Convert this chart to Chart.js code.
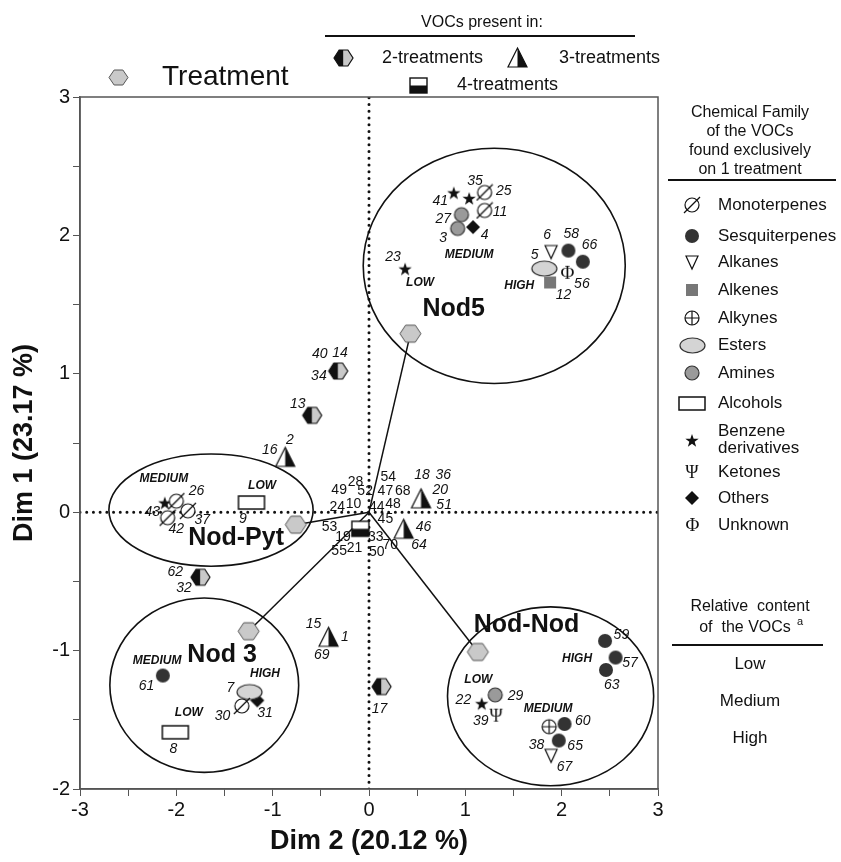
<!DOCTYPE html>
<html>
<head>
<meta charset="utf-8">
<script src="https://cdn.jsdelivr.net/npm/chart.js@4.4.1/dist/chart.umd.min.js"></script>
<style>
  html, body { margin: 0; padding: 0; background: #fff; }
  canvas { display: block; }
</style>
</head>
<body>
<canvas id="pcaChart" width="841" height="862"></canvas>
<script>
// values: Dim 2 on x, Dim 1 on y
const xRange = [-3, 3];
const yRange = [-2, 3];

const treatmentNames = ['Nod5', 'Nod-Pyt', 'Nod 3', 'Nod-Nod'];
const treatmentX = [0.43, -0.76, -1.25, 1.13];
const treatmentY = [1.29, -0.09, -0.86, -1.01];
const treatmentTextX = [0.88, -1.38, -1.525, 1.635];
const treatmentTextY = [1.47, -0.19, -1.03, -0.815];

// ellipse round each treatment: centre and half widths
const ellipseCx = [1.30, -1.64, -1.71, 1.885];
const ellipseCy = [1.78, 0.015, -1.25, -1.33];
const ellipseRx = [1.36, 1.06, 0.98, 1.07];
const ellipseRy = [0.85, 0.405, 0.63, 0.646];

// VOCs found on one treatment only, by chemical family
const monoterpenes = [[1.20, 2.31], [1.20, 2.18], [-2.00, 0.08], [-1.88, 0.01], [-2.09, -0.04], [-1.32, -1.40]];
const sesquiterpenes = [[2.07, 1.89], [2.22, 1.81], [-2.14, -1.18], [2.45, -0.93], [2.56, -1.05], [2.46, -1.14], [2.03, -1.53], [1.97, -1.65]];
const alkanes = [[1.89, 1.88], [1.89, -1.76]];
const alkenes = [[1.88, 1.66]];
const alkynes = [[1.87, -1.55]];
const esters = [[1.82, 1.76], [-1.24, -1.30]];
const amines = [[0.96, 2.15], [0.92, 2.05], [1.31, -1.32]];
const alcohols = [[-1.22, 0.07], [-2.01, -1.59]];
const benzenes = [[0.88, 2.31], [1.04, 2.27], [0.375, 1.76], [-2.12, 0.07], [1.17, -1.38]];
const ketones = [[1.32, -1.47]];
const others = [[1.08, 2.06], [-1.16, -1.36]];
const unknowns = [[2.06, 1.73]];

// VOCs shared by several treatments
const twoTreatments = [[-0.32, 1.02], [-0.59, 0.70], [-1.75, -0.47], [0.13, -1.26]];
const threeTreatments = [[-0.87, 0.40], [-0.42, -0.90], [0.54, 0.10], [0.36, -0.12]];
const fourTreatments = [[-0.09, -0.12]];

// VOC numbers, written in italics beside their marks
const vocLabels = [
  ['35', 1.10, 2.39], ['41', 0.74, 2.25], ['25', 1.40, 2.32], ['11', 1.36, 2.17], ['27', 0.77, 2.12],
  ['3', 0.77, 1.98], ['4', 1.20, 2.00], ['23', 0.25, 1.84], ['6', 1.85, 2.00], ['58', 2.10, 2.01],
  ['66', 2.29, 1.93], ['5', 1.72, 1.86], ['56', 2.21, 1.65], ['12', 2.02, 1.57],
  ['26', -1.79, 0.15], ['37', -1.73, -0.06], ['42', -2.00, -0.125], ['43', -2.25, 0.00], ['9', -1.31, -0.05],
  ['61', -2.31, -1.26], ['7', -1.44, -1.27], ['31', -1.08, -1.45], ['30', -1.52, -1.47], ['8', -2.03, -1.71],
  ['59', 2.62, -0.89], ['57', 2.71, -1.09], ['63', 2.52, -1.25], ['29', 1.52, -1.33], ['22', 0.98, -1.36],
  ['39', 1.16, -1.51], ['60', 2.22, -1.51], ['38', 1.74, -1.68], ['65', 2.14, -1.69], ['67', 2.03, -1.84],
  ['40', -0.51, 1.14], ['14', -0.30, 1.15], ['34', -0.52, 0.98], ['13', -0.74, 0.78], ['16', -1.03, 0.45],
  ['2', -0.82, 0.52], ['62', -2.01, -0.43], ['32', -1.92, -0.55], ['15', -0.575, -0.81], ['1', -0.25, -0.90],
  ['69', -0.49, -1.03], ['17', 0.11, -1.42], ['18', 0.55, 0.27], ['36', 0.77, 0.27], ['20', 0.74, 0.16],
  ['51', 0.78, 0.05], ['46', 0.565, -0.11], ['64', 0.52, -0.24]
];
// VOCs found on all treatments, upright numbers round the origin
const commonLabels = [
  ['28', -0.14, 0.22], ['49', -0.31, 0.16], ['52', -0.04, 0.15], ['54', 0.20, 0.25], ['47', 0.17, 0.15],
  ['68', 0.35, 0.15], ['24', -0.33, 0.04], ['10', -0.16, 0.06], ['44', 0.08, 0.04], ['48', 0.25, 0.06],
  ['45', 0.17, -0.05], ['53', -0.41, -0.11], ['19', -0.27, -0.18], ['33', 0.07, -0.18], ['70', 0.22, -0.24],
  ['55', -0.31, -0.28], ['21', -0.15, -0.26], ['50', 0.08, -0.29]
];
// relative content tags
const levelText = ['MEDIUM', 'LOW', 'HIGH', 'MEDIUM', 'LOW', 'MEDIUM', 'HIGH', 'LOW', 'HIGH', 'LOW', 'MEDIUM'];
const levelX = [1.04, 0.53, 1.56, -2.13, -1.11, -2.20, -1.08, -1.87, 2.16, 1.135, 1.86];
const levelY = [1.86, 1.66, 1.64, 0.24, 0.195, -1.07, -1.17, -1.45, -1.06, -1.21, -1.42];

const familyNames = ['Monoterpenes', 'Sesquiterpenes', 'Alkanes', 'Alkenes', 'Alkynes', 'Esters', 'Amines',
  'Alcohols', 'Benzene\nderivatives', 'Ketones', 'Others', 'Unknown'];
const contentLevels = ['Low', 'Medium', 'High'];

const SANS = '"Liberation Sans", Arial, sans-serif';
const SERIF = '"Liberation Serif", "DejaVu Serif", serif';

// ---------- marker glyphs ----------
function mark(w, h, draw) {
    const c = document.createElement('canvas');
    c.width = w + 4;
    c.height = h + 4;
    const g = c.getContext('2d');
    g.translate(2, 2);
    g.lineWidth = 1.2;
    g.strokeStyle = '#111';
    draw(g, w, h);
    return c;
}

function hexPath(g, w, h) {
    g.beginPath();
    g.moveTo(0, h / 2);
    g.lineTo(w * 0.27, 0);
    g.lineTo(w * 0.73, 0);
    g.lineTo(w, h / 2);
    g.lineTo(w * 0.73, h);
    g.lineTo(w * 0.27, h);
    g.closePath();
}

function circle(g, w, h, fill) {
    g.beginPath();
    g.arc(w / 2, h / 2, w / 2, 0, Math.PI * 2);
    g.fillStyle = fill;
    g.fill();
}

function glyph(ch, size) {
    return function (g, w, h) {
        g.fillStyle = '#111';
        g.font = size + 'px ' + SERIF;
        g.textAlign = 'center';
        g.textBaseline = 'middle';
        g.fillText(ch, w / 2, h / 2 + 1);
    };
}

const marks = {
    treatment: mark(21, 17, (g, w, h) => {
        hexPath(g, w, h);
        g.fillStyle = '#c9c9c9';
        g.fill();
        g.strokeStyle = '#555';
        g.lineWidth = 1;
        g.stroke();
    }),
    legendTreatment: mark(19, 15, (g, w, h) => {
        hexPath(g, w, h);
        g.fillStyle = '#c9c9c9';
        g.fill();
        g.strokeStyle = '#555';
        g.lineWidth = 1;
        g.stroke();
    }),
    two: mark(19, 16, (g, w, h) => {
        hexPath(g, w, h);
        g.save();
        g.clip();
        g.fillStyle = '#111';
        g.fillRect(0, 0, w / 2, h);
        g.fillStyle = '#c9c9c9';
        g.fillRect(w / 2, 0, w / 2, h);
        g.restore();
        g.stroke();
    }),
    three: mark(19, 19, (g, w, h) => {
        g.beginPath();
        g.moveTo(w / 2, 0);
        g.lineTo(w, h);
        g.lineTo(0, h);
        g.closePath();
        g.fillStyle = '#fff';
        g.fill();
        g.save();
        g.clip();
        g.fillStyle = '#111';
        g.fillRect(w / 2, 0, w / 2, h);
        g.restore();
        g.stroke();
    }),
    four: mark(17, 15, (g, w, h) => {
        g.fillStyle = '#fff';
        g.fillRect(0, 0, w, h / 2);
        g.fillStyle = '#111';
        g.fillRect(0, h / 2, w, h / 2);
        g.lineWidth = 1.4;
        g.strokeRect(0, 0, w, h);
    }),
    mono: mark(14, 14, (g, w, h) => {
        circle(g, w, h, '#fff');
        g.stroke();
        g.beginPath();
        g.moveTo(-1, h + 1);
        g.lineTo(w + 1, -1);
        g.stroke();
    }),
    sesq: mark(14, 14, (g, w, h) => circle(g, w, h, '#333')),
    alkane: mark(12, 13, (g, w, h) => {
        g.beginPath();
        g.moveTo(0, 0);
        g.lineTo(w, 0);
        g.lineTo(w / 2, h);
        g.closePath();
        g.fillStyle = '#fff';
        g.fill();
        g.stroke();
    }),
    alkene: mark(12, 12, (g, w, h) => {
        g.fillStyle = '#777';
        g.fillRect(0, 0, w, h);
    }),
    alkyne: mark(14, 14, (g, w, h) => {
        circle(g, w, h, '#fff');
        g.stroke();
        g.beginPath();
        g.moveTo(w / 2, 0);
        g.lineTo(w / 2, h);
        g.moveTo(0, h / 2);
        g.lineTo(w, h / 2);
        g.stroke();
    }),
    ester: mark(25, 15, (g, w, h) => {
        g.beginPath();
        g.ellipse(w / 2, h / 2, w / 2, h / 2, 0, 0, Math.PI * 2);
        g.fillStyle = '#d4d4d4';
        g.fill();
        g.strokeStyle = '#333';
        g.stroke();
    }),
    amine: mark(14, 14, (g, w, h) => {
        circle(g, w, h, '#9a9a9a');
        g.strokeStyle = '#333';
        g.stroke();
    }),
    alcohol: mark(26, 13, (g, w, h) => {
        g.fillStyle = '#fff';
        g.fillRect(0, 0, w, h);
        g.lineWidth = 1.5;
        g.strokeRect(0, 0, w, h);
    }),
    benzene: mark(14, 14, (g, w, h) => {
        g.beginPath();
        for (let i = 0; i < 10; i++) {
            const a = -Math.PI / 2 + i * Math.PI / 5;
            const r = i % 2 === 0 ? w / 2 : w * 0.2;
            g.lineTo(w / 2 + r * Math.cos(a), h / 2 + 1 + r * Math.sin(a));
        }
        g.closePath();
        g.fillStyle = '#111';
        g.fill();
    }),
    ketone: mark(14, 16, glyph('\u03A8', 18)),
    others: mark(14, 14, (g, w, h) => {
        g.beginPath();
        g.moveTo(w / 2, 0);
        g.lineTo(w, h / 2);
        g.lineTo(w / 2, h);
        g.lineTo(0, h / 2);
        g.closePath();
        g.fillStyle = '#111';
        g.fill();
    }),
    unknown: mark(15, 16, glyph('\u03A6', 19))
};

const familyMarks = [marks.mono, marks.sesq, marks.alkane, marks.alkene, marks.alkyne, marks.ester,
    marks.amine, marks.alcohol, marks.benzene, marks.ketone, marks.others, marks.unknown];
const familyPoints = [monoterpenes, sesquiterpenes, alkanes, alkenes, alkynes, esters, amines,
    alcohols, benzenes, ketones, others, unknowns];

function toXY(list) {
    return list.map(p => ({ x: p[0], y: p[1] }));
}

function markerSet(list, style) {
    return {
        type: 'scatter',
        data: toXY(list),
        pointStyle: style,
        pointRadius: 6,
        order: 0
    };
}

// ---------- datasets ----------
const datasets = [];
datasets.push({
    type: 'line', data: [{ x: 0, y: yRange[0] }, { x: 0, y: yRange[1] }],
    borderColor: '#111', borderWidth: 3, borderDash: [0.01, 6.7], borderCapStyle: 'round',
    pointRadius: 0, order: 30
});
datasets.push({
    type: 'line', data: [{ x: xRange[0], y: 0 }, { x: xRange[1], y: 0 }],
    borderColor: '#111', borderWidth: 3, borderDash: [0.01, 6.7], borderCapStyle: 'round',
    pointRadius: 0, order: 30
});
treatmentNames.forEach((name, i) => {
    datasets.push({
        type: 'line', data: [{ x: 0, y: 0 }, { x: treatmentX[i], y: treatmentY[i] }],
        borderColor: '#111', borderWidth: 1.5, pointRadius: 0, order: 20
    });
});
datasets.push(markerSet(treatmentX.map((x, i) => [x, treatmentY[i]]), marks.treatment));
datasets.push(markerSet(twoTreatments, marks.two));
datasets.push(markerSet(threeTreatments, marks.three));
datasets.push(markerSet(fourTreatments, marks.four));
familyPoints.forEach((list, i) => datasets.push(markerSet(list, familyMarks[i])));

// ---------- drawing of ellipses, texts and legends ----------
function drawText(ctx, text, x, y, font, align) {
    ctx.font = font;
    ctx.textAlign = align || 'center';
    ctx.textBaseline = 'middle';
    ctx.fillText(text, x, y);
}

function drawMark(ctx, m, x, y) {
    ctx.drawImage(m, Math.round(x - m.width / 2), Math.round(y - m.height / 2));
}

const decor = {
    id: 'decor',
    beforeDatasetsDraw(chart) {
        const ctx = chart.ctx;
        const xs = chart.scales.x;
        const ys = chart.scales.y;
        ctx.save();
        ctx.strokeStyle = '#111';
        ctx.lineWidth = 1.6;
        ellipseCx.forEach((cx, i) => {
            const px = xs.getPixelForValue(cx);
            const py = ys.getPixelForValue(ellipseCy[i]);
            const rx = Math.abs(xs.getPixelForValue(cx + ellipseRx[i]) - px);
            const ry = Math.abs(ys.getPixelForValue(ellipseCy[i] + ellipseRy[i]) - py);
            ctx.beginPath();
            ctx.ellipse(px, py, rx, ry, 0, 0, Math.PI * 2);
            ctx.stroke();
        });
        ctx.restore();
    },
    afterDatasetsDraw(chart) {
        const ctx = chart.ctx;
        const xs = chart.scales.x;
        const ys = chart.scales.y;
        const a = chart.chartArea;
        ctx.save();
        ctx.fillStyle = '#111';
        vocLabels.forEach(l => drawText(ctx, l[0], xs.getPixelForValue(l[1]), ys.getPixelForValue(l[2]),
            'italic 14px ' + SANS));
        commonLabels.forEach(l => drawText(ctx, l[0], xs.getPixelForValue(l[1]), ys.getPixelForValue(l[2]),
            '14px ' + SANS));
        levelText.forEach((t, i) => drawText(ctx, t, xs.getPixelForValue(levelX[i]), ys.getPixelForValue(levelY[i]),
            'italic bold 12px ' + SANS));
        treatmentNames.forEach((t, i) => drawText(ctx, t, xs.getPixelForValue(treatmentTextX[i]),
            ys.getPixelForValue(treatmentTextY[i]), 'bold 25px ' + SANS));
        ctx.strokeStyle = '#555';
        ctx.lineWidth = 1.5;
        ctx.strokeRect(a.left, a.top, a.right - a.left, a.bottom - a.top);
        ctx.restore();
    },
    afterDraw(chart) {
        const ctx = chart.ctx;
        ctx.save();
        ctx.fillStyle = '#111';
        ctx.strokeStyle = '#111';

        // treatment key
        drawMark(ctx, marks.legendTreatment, 118, 77);
        drawText(ctx, 'Treatment', 162, 77, '28px ' + SANS, 'left');

        // "VOCs present in" key
        drawText(ctx, 'VOCs present in:', 482, 23, '16px ' + SANS);
        ctx.lineWidth = 2;
        ctx.beginPath();
        ctx.moveTo(325, 36);
        ctx.lineTo(635, 36);
        ctx.stroke();
        drawMark(ctx, marks.two, 343, 58);
        drawText(ctx, '2-treatments', 382, 58, '18px ' + SANS, 'left');
        drawMark(ctx, marks.three, 517, 57);
        drawText(ctx, '3-treatments', 559, 58, '18px ' + SANS, 'left');
        drawMark(ctx, marks.four, 418, 85);
        drawText(ctx, '4-treatments', 457, 85, '18px ' + SANS, 'left');

        // chemical family key
        const head = ['Chemical Family', 'of the VOCs', 'found exclusively', 'on 1 treatment'];
        head.forEach((t, i) => drawText(ctx, t, 750, 113 + i * 19, '16px ' + SANS));
        ctx.lineWidth = 2;
        ctx.beginPath();
        ctx.moveTo(668, 180);
        ctx.lineTo(836, 180);
        ctx.stroke();
        const rowY = [205, 236, 262, 290, 318, 345, 373, 403, 440, 472, 498, 525];
        familyNames.forEach((name, i) => {
            drawMark(ctx, familyMarks[i], 692, rowY[i]);
            const lines = name.split('\n');
            lines.forEach((t, k) => drawText(ctx, t, 718, rowY[i] + (k - (lines.length - 1) / 2) * 17,
                '17px ' + SANS, 'left'));
        });

        // relative content key
        drawText(ctx, 'Relative  content', 750, 607, '16px ' + SANS);
        drawText(ctx, 'of  the VOCs', 745, 628, '16px ' + SANS);
        drawText(ctx, 'a', 797, 622, '11px ' + SANS, 'left');
        ctx.beginPath();
        ctx.moveTo(672, 645);
        ctx.lineTo(823, 645);
        ctx.stroke();
        contentLevels.forEach((t, i) => drawText(ctx, t, 750, 664 + i * 37, '17px ' + SANS));
        ctx.restore();
    }
};

const tickFont = { family: SANS, size: 20 };

new Chart(document.getElementById('pcaChart'), {
    type: 'scatter',
    data: { datasets: datasets },
    options: {
        responsive: false,
        animation: false,
        events: [],
        layout: { padding: { top: 97, right: 183, left: 0, bottom: 0 } },
        plugins: { legend: { display: false }, tooltip: { enabled: false } },
        scales: {
            x: {
                type: 'linear',
                min: xRange[0],
                max: xRange[1],
                afterFit(scale) { scale.height = 73; },
                ticks: {
                    stepSize: 0.5, autoSkip: false, color: '#111', font: tickFont, padding: 2,
                    maxRotation: 0,
                    callback: v => Number.isInteger(v) ? String(v) : ''
                },
                grid: { drawOnChartArea: false, tickLength: 7, color: '#555' },
                border: { color: '#555', width: 1.5 },
                title: {
                    display: true, text: 'Dim 2 (20.12 %)', color: '#111',
                    font: { family: SANS, size: 27, weight: 'bold' }, padding: { top: 0, bottom: 4 }
                }
            },
            y: {
                type: 'linear',
                min: yRange[0],
                max: yRange[1],
                afterFit(scale) { scale.width = 80; },
                ticks: {
                    stepSize: 0.5, autoSkip: false, color: '#111', font: tickFont, padding: 3,
                    callback: v => Number.isInteger(v) ? String(v) : ''
                },
                grid: { drawOnChartArea: false, tickLength: 7, color: '#555' },
                border: { color: '#555', width: 1.5 },
                title: {
                    display: true, text: 'Dim 1 (23.17 %)', color: '#111',
                    font: { family: SANS, size: 27, weight: 'bold' }, padding: { top: 8, bottom: 4 }
                }
            }
        }
    },
    plugins: [decor]
});
</script>
</body>
</html>
